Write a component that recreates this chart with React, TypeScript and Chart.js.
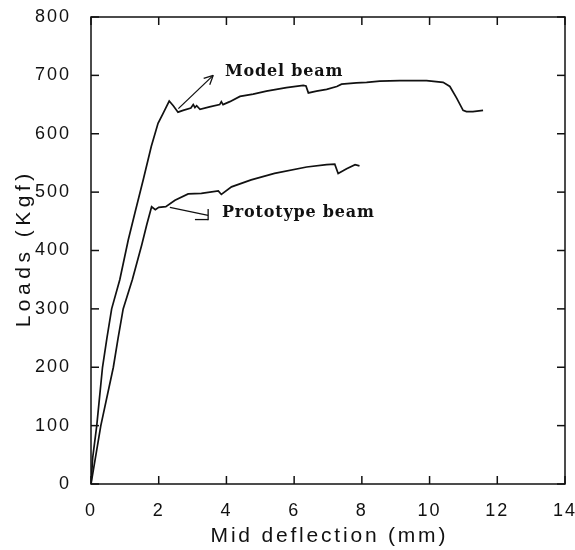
import React, { useEffect, useRef } from "react";
import { Chart, registerables } from "chart.js";

Chart.register(...registerables);

// ---- data ----
const modelX = [0, 0.05, 0.17, 0.34, 0.47, 0.61, 0.85, 1.1, 1.3, 1.55, 1.78, 1.98, 2.13, 2.31, 2.43, 2.57, 2.72, 2.95, 3.02, 3.07, 3.12, 3.22, 3.5, 3.8, 3.85, 3.9, 4.1, 4.4, 4.79, 5.18, 5.77, 6.27, 6.35, 6.42, 6.66, 6.96, 7.26, 7.4, 7.84, 8.14, 8.53, 9.12, 9.91, 10.4, 10.6, 10.8, 10.99, 11.09, 11.28, 11.58];
const modelY = [0, 45, 100, 200, 250, 300, 350, 418, 465, 523, 578, 618, 635, 656, 648, 637, 640, 644, 650, 645, 648, 642, 646, 650, 655, 650, 655, 664, 668, 673, 679, 683, 682, 670, 673, 676, 681, 685, 687, 688, 690, 691, 691, 688, 681, 661, 640, 638, 638, 640];

const protoX = [0, 0.29, 0.66, 0.8, 0.95, 1.22, 1.5, 1.65, 1.79, 1.9, 2.0, 2.21, 2.48, 2.87, 3.26, 3.76, 3.85, 4.15, 4.73, 5.42, 6.37, 6.96, 7.2, 7.3, 7.55, 7.8, 7.93];
const protoY = [0, 100, 200, 250, 300, 350, 410, 445, 475, 470, 474, 475, 486, 497, 498, 502, 496, 509, 521, 532, 543, 547, 548, 532, 540, 547, 545];

const xTicks = [0, 2, 4, 6, 8, 10, 12, 14];
const yTicks = [0, 100, 200, 300, 400, 500, 600, 700, 800];

const xTitle = "Mid deflection (mm)";
const yTitle = "Loads (Kgf)";

const modelLabel = "Model beam";
const modelLabelAt = [3.96, 706];
const modelArrow = [[2.58, 643], [3.61, 700]];

const protoLabel = "Prototype beam";
const protoLabelAt = [3.87, 464];
const protoArrow = [[2.33, 474], [3.46, 460]];
const protoBar = [[3.46, 471], [3.46, 452]];
const protoFoot = [[3.07, 453], [3.46, 453]];

const INK = "#111";
const SANS = '"Liberation Sans", Arial, sans-serif';

const framePlugin = {
  id: "frame",
  beforeUpdate(chart: any) {
    chart.ctx.letterSpacing = "2px";
  },
  beforeDraw(chart: any) {
    chart.ctx.letterSpacing = "2px";
  },
  afterDraw(chart: any) {
    const { ctx, chartArea: a, scales } = chart;
    const xs = scales.x;
    const ys = scales.y;
    const P = (p: number[]) => [xs.getPixelForValue(p[0]), ys.getPixelForValue(p[1])];
    const seg = (x1: number, y1: number, x2: number, y2: number) => {
      ctx.beginPath();
      ctx.moveTo(x1, y1);
      ctx.lineTo(x2, y2);
      ctx.stroke();
    };
    ctx.save();
    ctx.strokeStyle = INK;
    ctx.lineWidth = 1.5;
    ctx.strokeRect(a.left, a.top, a.right - a.left, a.bottom - a.top);
    const tl = 8;
    xTicks.forEach((v) => {
      const px = xs.getPixelForValue(v);
      seg(px, a.bottom, px, a.bottom - tl);
      seg(px, a.top, px, a.top + tl);
    });
    yTicks.forEach((v) => {
      const py = ys.getPixelForValue(v);
      seg(a.left, py, a.left + tl, py);
      seg(a.right, py, a.right - tl, py);
    });

    // annotations
    ctx.lineWidth = 1.3;
    const [m1x, m1y] = P(modelArrow[0]);
    const [m2x, m2y] = P(modelArrow[1]);
    seg(m1x, m1y, m2x, m2y);
    const ang = Math.atan2(m2y - m1y, m2x - m1x);
    const hl = 10;
    [0.45, -0.45].forEach((d) => {
      seg(m2x, m2y, m2x - hl * Math.cos(ang + d), m2y - hl * Math.sin(ang + d));
    });
    const [p1x, p1y] = P(protoArrow[0]);
    const [p2x, p2y] = P(protoArrow[1]);
    seg(p1x, p1y, p2x, p2y);
    const [b1x, b1y] = P(protoBar[0]);
    const [b2x, b2y] = P(protoBar[1]);
    seg(b1x, b1y, b2x, b2y);
    const [f1x, f1y] = P(protoFoot[0]);
    const [f2x, f2y] = P(protoFoot[1]);
    seg(f1x, f1y, f2x, f2y);

    ctx.fillStyle = INK;
    ctx.letterSpacing = "0.8px";
    ctx.font = 'bold 16px "DejaVu Serif", "Liberation Serif", serif';
    ctx.textAlign = "left";
    ctx.textBaseline = "middle";
    const [mlx, mly] = P(modelLabelAt);
    ctx.fillText(modelLabel, mlx, mly);
    const [plx, ply] = P(protoLabelAt);
    ctx.fillText(protoLabel, plx, ply);

    // axis titles
    ctx.font = `21px ${SANS}`;
    ctx.textBaseline = "alphabetic";
    ctx.textAlign = "center";
    ctx.letterSpacing = "2.8px";
    ctx.fillText(xTitle, (a.left + a.right) / 2 + 1.4, 542);
    ctx.save();
    ctx.translate(30, (a.top + a.bottom) / 2);
    ctx.rotate(-Math.PI / 2);
    ctx.letterSpacing = "4.5px";
    ctx.fillText(yTitle, 2.2, 0);
    ctx.restore();
    ctx.restore();
    ctx.letterSpacing = "2px";
  },
};

export default function App() {
  const ref = useRef<HTMLCanvasElement | null>(null);
  useEffect(() => {
    if (!ref.current) return;
    const chart = new Chart(ref.current, {
      type: "line",
      data: {
        datasets: [
          {
            label: "Model beam",
            data: modelX.map((x, i) => ({ x, y: modelY[i] })),
            borderColor: INK,
            borderWidth: 1.7,
            pointRadius: 0,
            tension: 0,
            fill: false,
          },
          {
            label: "Prototype beam",
            data: protoX.map((x, i) => ({ x, y: protoY[i] })),
            borderColor: INK,
            borderWidth: 1.7,
            pointRadius: 0,
            tension: 0,
            fill: false,
          },
        ],
      },
      options: {
        animation: false,
        responsive: false,
        devicePixelRatio: 1,
        layout: { padding: { top: 17, right: 10, bottom: 0, left: 0 } },
        plugins: { legend: { display: false }, tooltip: { enabled: false } },
        scales: {
          x: {
            type: "linear",
            min: 0,
            max: 14,
            grid: { display: false },
            border: { display: false },
            afterBuildTicks: (s: any) => {
              s.ticks = xTicks.map((v) => ({ value: v }));
            },
            ticks: {
              color: INK,
              padding: 8,
              maxRotation: 0,
              autoSkip: false,
              font: { family: SANS, size: 18 },
            },
            afterFit: (s: any) => {
              s.height = 66;
              s.paddingLeft = 0;
              s.paddingRight = 0;
            },
          },
          y: {
            type: "linear",
            min: 0,
            max: 800,
            grid: { display: false },
            border: { display: false },
            afterBuildTicks: (s: any) => {
              s.ticks = yTicks.map((v) => ({ value: v }));
            },
            ticks: {
              color: INK,
              padding: 12,
              autoSkip: false,
              font: { family: SANS, size: 18 },
            },
            afterFit: (s: any) => {
              s.width = 91;
              s.paddingTop = 0;
              s.paddingBottom = 0;
            },
          },
        },
      },
      plugins: [framePlugin],
    } as any);
    return () => chart.destroy();
  }, []);
  return (
    <div style={{ position: "fixed", left: 0, top: 0, width: 575, height: 550, background: "#fff" }}>
      <canvas ref={ref} width={575} height={550} style={{ display: "block" }} />
    </div>
  );
}
